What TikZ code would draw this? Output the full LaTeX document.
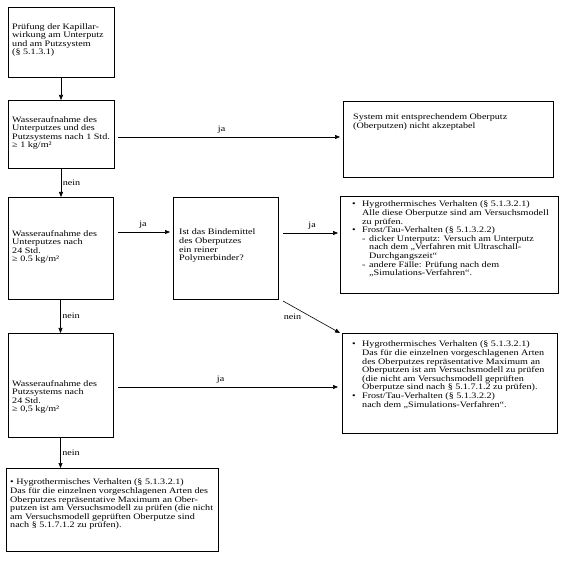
\documentclass[tikz,border=0pt]{standalone}
\usepackage{fontspec}
\setmainfont[FakeStretch=1.21]{Liberation Serif}
\usetikzlibrary{arrows.meta}
\newcommand\bul{\makebox[10pt][l]{•}}
\newcommand\dsh{\makebox[7pt][l]{-}}
\newcommand\spc[1]{\hspace*{#1pt}}
\begin{document}
\begin{tikzpicture}[x=1pt,y=-1pt,
  box/.style={draw, line width=0.85pt, inner sep=0pt, outer sep=0pt},
  txt/.style={inner sep=0pt, align=left, anchor=north west, font=\fontsize{8.35}{8.6}\selectfont},
  arr/.style={line width=0.6pt, -{Triangle[length=5pt,width=4pt]}},
  lab/.style={font=\fontsize{8.35}{8.6}\selectfont, inner sep=1.5pt}]
\fill[white] (0,0) rectangle (565,561);
\useasboundingbox (0,0) rectangle (565,561);
% boxes
\node[box, minimum width=106pt, minimum height=70pt]  (b1) at (61,42) {};
\node[box, minimum width=106pt, minimum height=68pt]  (b2) at (61,134) {};
\node[box, minimum width=210pt, minimum height=76pt]  (b3) at (448,139) {};
\node[box, minimum width=105pt, minimum height=102pt] (b4) at (60.5,248) {};
\node[box, minimum width=105pt, minimum height=102pt] (b5) at (225.5,248) {};
\node[box, minimum width=218pt, minimum height=97pt]  (b6) at (449,244.5) {};
\node[box, minimum width=215pt, minimum height=100pt] (b7) at (449.5,383) {};
\node[box, minimum width=105pt, minimum height=104pt] (b8) at (60.5,385) {};
\node[box, minimum width=212pt, minimum height=83pt]  (b9) at (112,509.5) {};
% texts
\node[txt] (t1) at (12,23) {Prüfung der Kapillar-\\wirkung am Unterputz\\und am Putzsystem\\(§ 5.1.3.1)};
\node[txt] (t2) at (12,116) {Wasseraufnahme des\\Unterputzes und des\\Putzsystems nach 1 Std.\\≥ 1 kg/m²};
\node[txt] (t3) at (353,114) {System mit entsprechendem Oberputz\\(Oberputzen) nicht akzeptabel};
\node[txt] (t4) at (12,230) {Wasseraufnahme des\\Unterputzes nach\\24 Std.\\≥ 0.5 kg/m²};
\node[txt] (t5) at (179,229) {Ist das Bindemittel\\des Oberputzes\\ein reiner\\Polymerbinder?};
\node[txt] (t6) at (352,201) {\bul Hygrothermisches Verhalten (§ 5.1.3.2.1)\\
\spc{10}Alle diese Oberputze sind am Versuchsmodell\\
\spc{10}zu prüfen.\\
\bul Frost/Tau-Verhalten (§ 5.1.3.2.2)\\
\spc{10}\dsh dicker Unterputz: Versuch am Unterputz\\
\spc{17}nach dem „Verfahren mit Ultraschall-\\
\spc{17}Durchgangszeit“\\
\spc{10}\dsh andere Fälle: Prüfung nach dem\\
\spc{17}„Simulations-Verfahren“.};
\node[txt] (t7) at (352,341) {\bul Hygrothermisches Verhalten (§ 5.1.3.2.1)\\
\spc{10}Das für die einzelnen vorgeschlagenen Arten\\
\spc{10}des Oberputzes repräsentative Maximum an\\
\spc{10}Oberputzen ist am Versuchsmodell zu prüfen\\
\spc{10}(die nicht am Versuchsmodell geprüften\\
\spc{10}Oberputze sind nach § 5.1.7.1.2 zu prüfen).\\
\bul Frost/Tau-Verhalten (§ 5.1.3.2.2)\\
\spc{10}nach dem „Simulations-Verfahren“.};
\node[txt] (t8) at (12,380) {Wasseraufnahme des\\Putzsystems nach\\24 Std.\\≥ 0,5 kg/m²};
\node[txt] (t9) at (10,479) {• Hygrothermisches Verhalten (§ 5.1.3.2.1)\\
Das für die einzelnen vorgeschlagenen Arten des\\
Oberputzes repräsentative Maximum an Ober-\\
putzen ist am Versuchsmodell zu prüfen (die nicht\\
am Versuchsmodell geprüften Oberputze sind\\
nach § 5.1.7.1.2 zu prüfen).};
% connectors
\draw[arr] (b1.south) -- (b1.south |- b2.north);
\draw[arr, shorten <=4pt, shorten >=3pt] ([yshift=-3pt]b2.east) -- ([yshift=-3pt]b2.east -| b3.west)
  node[lab, above=2pt, pos=0.47] {ja};
\draw[arr] (b2.south) -- (b2.south |- b4.north) node[lab, right, midway] {nein};
\draw[arr, shorten <=5pt, shorten >=3pt] ([yshift=16pt]b4.east) -- ([yshift=16pt]b4.east -| b5.west)
  node[lab, above=2pt, midway] {ja};
\draw[arr, shorten <=5pt, shorten >=2pt] ([yshift=15pt]b5.east) -- ([yshift=15pt]b5.east -| b6.west)
  node[lab, above=2pt, pos=0.55] {ja};
\draw[arr] ([shift={(5pt,-2pt)}]b5.south east) -- ([xshift=-2pt]b7.north west)
  node[lab, below left, pos=0.35] {nein};
\draw[arr] (b4.south) -- (b4.south |- b8.north) node[lab, right, midway] {nein};
\draw[arr, shorten <=5pt, shorten >=4pt] ([yshift=-2pt]b8.east) -- ([yshift=-2pt]b8.east -| b7.west)
  node[lab, above=2pt, pos=0.47] {ja};
\draw[arr] (b8.south) -- (b8.south |- b9.north) node[lab, right, midway] {nein};
\end{tikzpicture}
\end{document}
